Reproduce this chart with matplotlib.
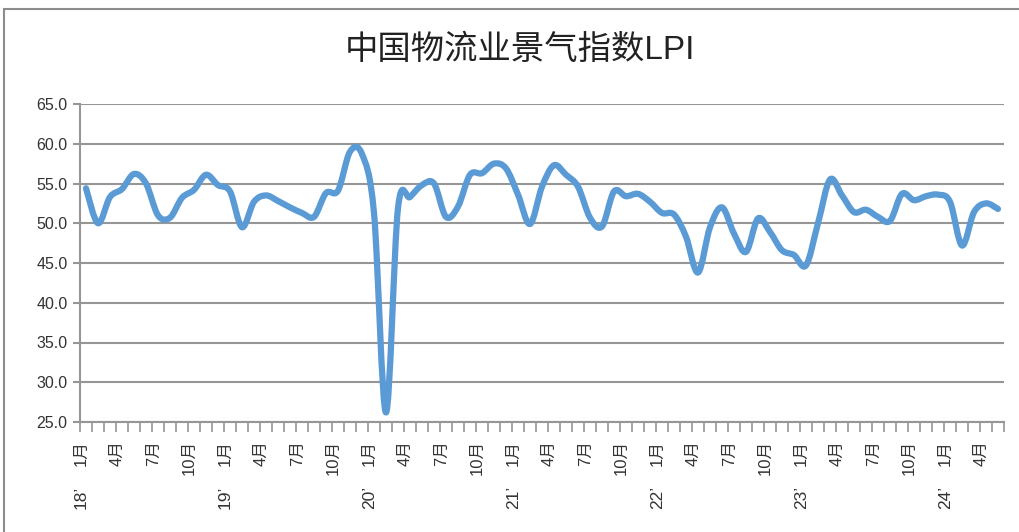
import numpy as np
import matplotlib
matplotlib.use("Agg")
import matplotlib.pyplot as plt
from matplotlib.path import Path
from matplotlib.patches import PathPatch, Rectangle
from matplotlib.transforms import blended_transform_factory

plt.rcParams['font.family'] = ['Liberation Sans', 'Noto Sans CJK SC', 'DejaVu Sans']

# LPI monthly, Jan 2018 - May 2024
lpi_2018 = [54.4, 50.0, 53.3, 54.3, 56.2, 55.0, 51.0, 50.7, 53.2, 54.2, 56.1, 54.8]
lpi_2019 = [54.0, 49.5, 52.7, 53.5, 52.8, 52.0, 51.3, 50.8, 53.8, 54.1, 59.0, 58.7]
lpi_2020 = [51.3, 26.2, 51.9, 53.3, 54.8, 55.0, 50.8, 52.1, 56.1, 56.3, 57.5, 56.9]
lpi_2021 = [53.6, 49.9, 54.6, 57.3, 56.1, 54.6, 50.7, 49.6, 54.0, 53.4, 53.7, 52.7]
lpi_2022 = [51.3, 51.1, 48.3, 43.8, 49.5, 52.0, 48.7, 46.4, 50.6, 48.9, 46.6, 46.0]
lpi_2023 = [44.7, 50.0, 55.5, 53.5, 51.4, 51.7, 50.8, 50.3, 53.7, 52.9, 53.4, 53.6]
lpi_2024 = [52.7, 47.2, 51.4, 52.5, 51.8]
years = ['18', '19', '20', '21', '22', '23', '24']
month_marks = [1, 4, 7, 10]

values = lpi_2018 + lpi_2019 + lpi_2020 + lpi_2021 + lpi_2022 + lpi_2023 + lpi_2024
n = len(values)
x = np.arange(n)
y = np.array(values)

fig = plt.figure(figsize=(10.2, 5.32), dpi=100)
ax = fig.add_axes([80/1020, 1 - 422/532, 924/1020, 318/532])

# smoothed line like excel: bezier through each point
verts = [(x[0], y[0])]
codes = [Path.MOVETO]
for i in range(n - 1):
    p0 = np.array([x[max(i-1, 0)], y[max(i-1, 0)]])
    p1 = np.array([x[i], y[i]])
    p2 = np.array([x[i+1], y[i+1]])
    p3 = np.array([x[min(i+2, n-1)], y[min(i+2, n-1)]])
    c1 = p1 + (p2 - p0) / 6
    c2 = p2 - (p3 - p1) / 6
    verts += [tuple(c1), tuple(c2), tuple(p2)]
    codes += [Path.CURVE4] * 3
ax.add_patch(PathPatch(Path(verts, codes), fill=False, edgecolor='#5b9bd5',
                       lw=4.5, capstyle='round', joinstyle='round', zorder=3))

grey = '#969696'
ax.set_xlim(-0.5, n - 0.5)
ax.set_ylim(25, 65)
ax.set_yticks(np.arange(25, 66, 5))
ax.set_yticklabels(['%.1f' % v for v in np.arange(25, 66, 5)], fontsize=11.5, color='#333333')
ax.yaxis.grid(True, color=grey, lw=1.5)
ax.set_axisbelow(True)
for s in ['top', 'right']:
    ax.spines[s].set_visible(False)
ax.spines['left'].set_color(grey)
ax.spines['bottom'].set_color(grey)
ax.spines['left'].set_linewidth(1.5)
ax.spines['bottom'].set_linewidth(1.5)
ax.tick_params(axis='y', length=5, width=1.5, color=grey, pad=4)

ax.set_xticks(np.arange(-0.5, n, 1))
ax.set_xticklabels([])
ax.tick_params(axis='x', length=7, width=1.2, color=grey)

tr = blended_transform_factory(ax.transData, fig.transFigure)
for i in range(n):
    m = i % 12 + 1
    if m in month_marks:
        ax.text(i - 0.4, 1 - 440/532, '%d月' % m, rotation=90, ha='center', va='top',
                fontsize=12, color='#333333', transform=tr)
    if m == 1:
        ax.text(i - 0.4, 1 - 486/532, years[i // 12] + '\u2019', rotation=90, ha='center',
                va='top', fontsize=12.5, color='#333333', transform=tr)

fig.text(520/1020, 1 - 50/532, '中国物流业景气指数LPI', ha='center', va='center',
         fontsize=24, color='#222222')

# chart area border
fig.patches.append(Rectangle((4/1020, -0.1), 1.2, 1 - 9/532 + 0.1, transform=fig.transFigure,
                             fill=False, edgecolor='#8c8c8c', lw=1.5))

fig.savefig('out.png', dpi=100)
